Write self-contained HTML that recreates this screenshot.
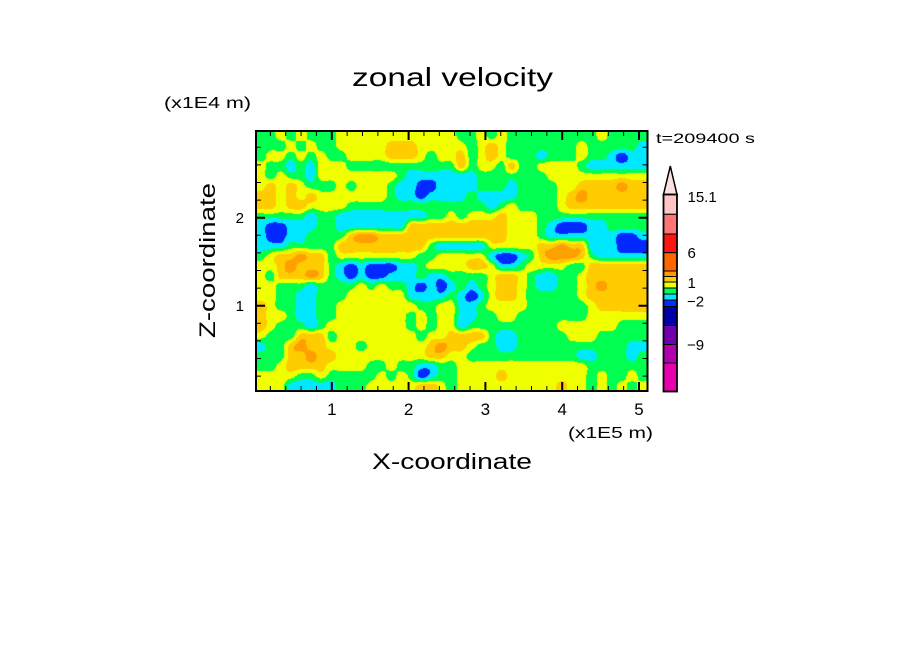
<!DOCTYPE html>
<html><head><meta charset="utf-8">
<style>
html,body{margin:0;padding:0;background:#fff;}
#wrap{position:relative;width:904px;height:654px;overflow:hidden;background:#fff;}
#c{position:absolute;left:256px;top:131px;background:#F0FF00;}
svg{position:absolute;left:0;top:0;}
text{font-family:"Liberation Sans",sans-serif;fill:#000;}
</style></head><body>
<div id="wrap">
<canvas id="c" width="391" height="260"></canvas>
<svg width="904" height="654" viewBox="0 0 904 654" xmlns="http://www.w3.org/2000/svg">
  <path id="tmin" d="" stroke="#000" stroke-width="1" fill="none"/>
  <path id="tmaj" d="" stroke="#000" stroke-width="2" fill="none"/>
  <rect x="256" y="131" width="391.5" height="260" fill="none" stroke="#000" stroke-width="2"/>

  <text x="352" y="86" font-size="26" textLength="201" lengthAdjust="spacingAndGlyphs">zonal velocity</text>
  <text x="164" y="108" font-size="16" textLength="87" lengthAdjust="spacingAndGlyphs">(x1E4 m)</text>
  <text x="656" y="143" font-size="14" textLength="99" lengthAdjust="spacingAndGlyphs">t=209400 s</text>

  <text x="244" y="223" font-size="15" text-anchor="end">2</text>
  <text x="244" y="311" font-size="15" text-anchor="end">1</text>

  <text x="331.8" y="415" font-size="17" text-anchor="middle">1</text>
  <text x="408.6" y="415" font-size="17" text-anchor="middle">2</text>
  <text x="485.4" y="415" font-size="17" text-anchor="middle">3</text>
  <text x="562.2" y="415" font-size="17" text-anchor="middle">4</text>
  <text x="639" y="415" font-size="17" text-anchor="middle">5</text>
  <text x="568" y="438" font-size="16" textLength="85" lengthAdjust="spacingAndGlyphs">(x1E5 m)</text>

  <text x="372" y="469" font-size="22" textLength="160" lengthAdjust="spacingAndGlyphs">X-coordinate</text>
  <text transform="translate(215,260.5) rotate(-90)" x="0" y="0" font-size="22" text-anchor="middle" textLength="155" lengthAdjust="spacingAndGlyphs">Z-coordinate</text>

  <!-- colorbar -->
  <polygon points="663.5,194.5 670.3,166 677,194.5" fill="#FFE0E0" stroke="#000" stroke-width="1.5" stroke-linejoin="miter"/>
  <g stroke="#000" stroke-width="1">
    <rect x="663.5" y="194.5" width="13.5" height="19.8" fill="#FFC4C4"/>
    <rect x="663.5" y="214.3" width="13.5" height="19.7" fill="#FF7474"/>
    <rect x="663.5" y="234" width="13.5" height="18.7" fill="#FF1414"/>
    <rect x="663.5" y="252.7" width="13.5" height="18.3" fill="#FF6600"/>
    <rect x="663.5" y="271" width="13.5" height="5.5" fill="#FF9900"/>
    <rect x="663.5" y="276.5" width="13.5" height="5.5" fill="#FFCC00"/>
    <rect x="663.5" y="282" width="13.5" height="6" fill="#F0FF00"/>
    <rect x="663.5" y="288" width="13.5" height="6" fill="#00FF50"/>
    <rect x="663.5" y="294" width="13.5" height="6" fill="#00E8FF"/>
    <rect x="663.5" y="300" width="13.5" height="6.5" fill="#0030FF"/>
    <rect x="663.5" y="306.5" width="13.5" height="19" fill="#0000A8"/>
    <rect x="663.5" y="325.5" width="13.5" height="19" fill="#7000B0"/>
    <rect x="663.5" y="344.5" width="13.5" height="18.5" fill="#B000B0"/>
    <rect x="663.5" y="363" width="13.5" height="28.5" fill="#E800B0"/>
  </g>
  <rect x="663.5" y="194.5" width="13.5" height="197" fill="none" stroke="#000" stroke-width="1.8"/>

  <text x="687.5" y="202" font-size="15">15.1</text>
  <text x="687.5" y="258" font-size="15">6</text>
  <text x="687.5" y="288" font-size="15">1</text>
  <text x="687" y="306.5" font-size="15">−2</text>
  <text x="687" y="350" font-size="15">−9</text>
</svg>
</div>
<script>
(function(){
var R=[
"GGYGYGGGYYYYYYYYYYYYGGYGYGGGGGGGGGYGGGG",
"GGGYGYGGYYYYYOOOYYYYYGYOYGGGGGGGYGGGGGC",
"GYYGYGYGGYYYYOOOYGYYOGYOYGGGCGGGYGGCBCC",
"YGGCGCYYYGGGGGGGGGGGOGYYGOGGYYYYGCCCCCC",
"YGYGGCYYYYYYYYGCCCCCCCGGGGGGGYYYYYYYYYY",
"YOYOYGGGYGYYYGCCBBCCCCGGGCGGGGYYOOOODOO",
"OOYOYOYYYYYYYGCCBCCCCGCCCCGGGGYODOOOOOO",
"OOYOOYYYYGGGGGGGGGGGGGGCGYGGGGYOOOOOOOO",
"GGGGGCGGCCCCCCCCCGGYGYYYOYYYGGGGGGGGGGG",
"CBBCCCGGCCCCCCCOOOOOOOOOOYYYGCBBBCCGGGG",
"CBBCCGGGGODDOOOOOOOOOOOOOYYYGCCCCCCCBBC",
"CCCGGGGGOOOOOOOOOGCCCCCYYYYYOODOOCCCBBB",
"GYOODOOGYYYYYYYYGGYYYYYCBBCGODDDOGCCCCC",
"YYODOOOGCBCBBBCCGYYYYOOYCCGYYYYGGOOOOOO",
"YGOOODOGCBCBBCCCGCCGGGGYOOYGCCGGYOOOOOO",
"YYGGGCGGGGYGYGGCBCBCGCGYOOYGCCGGYODOOOO",
"YYGGCCGGGYYYYYYCCCCGCBCYOOYGGGGGYOOOOOO",
"OYGGCCGGYYYYYYYYGGYYCCGYYYYGGGGGGYOOOOO",
"OYYGCCGGYYYYYYYGYGYYCCGGYYGGGGGGGYYYYYY",
"OYGGGCGYYYYYYYYGYGYYCGGGGGGGGGYYYYYYGGG",
"YGGGOOOGYYYYYYYYGYYOOOOGCCGGGGGYYYGGGGG",
"CGGODOOYYYGYYYYYYODOOYGGCCGGGGGGGGGGGCC",
"GGGOODOOYYYYYYYYYOOYYGGGGGGGGGGGCCGGGCG",
"GGYOOOOYYYYGGYGGCCGGYYYYYYYYYYYYYGGGGGG",
"YYYYGGYGGGGGYGYGBCGGYYYYOYYYYYYYYGYGGYG",
"YYYCCCCCGGGYYYYYOOYGYYYYYYYYYYOYYGYGYGY"
];
var L={B:0,C:1,G:2,Y:3,O:4,D:5};
var P=[[0,40,255],[0,232,255],[0,255,80],[240,255,0],[255,204,0],[255,160,0]];
var NC=39,NR=26,W=391,H=260;
var g=R.map(function(r){var a=[];for(var i=0;i<NC;i++){var c=r.charAt(i);a.push(L[c]!==undefined?L[c]:3);}return a;});
function G(j,i){if(j<0)j=0;if(j>NR-1)j=NR-1;if(i<0)i=0;if(i>NC-1)i=NC-1;return g[j][i];}
function cr(p0,p1,p2,p3,t){return p1+0.5*t*(p2-p0+t*(2*p0-5*p1+4*p2-p3+t*(3*(p1-p2)+p3-p0)));}
var cv=document.getElementById('c');
if(cv&&cv.getContext){
var ctx=cv.getContext('2d');
var img=ctx.createImageData(W,H),d=img.data;
var cw=W/NC,chh=H/NR;
for(var y=0;y<H;y++){
  var gy=(y+0.5)/chh-0.5;
  var j1=Math.floor(gy), fy=gy-j1;
  for(var x=0;x<W;x++){
    var gx=(x+0.5)/cw-0.5;
    var i1=Math.floor(gx), fx=gx-i1;
    var r=[];
    for(var m=-1;m<=2;m++){
      r.push(cr(G(j1+m,i1-1),G(j1+m,i1),G(j1+m,i1+1),G(j1+m,i1+2),fx));
    }
    var v=cr(r[0],r[1],r[2],r[3],fy);
    var k=Math.round(v); if(k<0)k=0; if(k>5)k=5;
    var p=(y*W+x)*4, c=P[k];
    d[p]=c[0];d[p+1]=c[1];d[p+2]=c[2];d[p+3]=255;
  }
}
ctx.putImageData(img,0,0);
}
var mn='',mj='';
for(var j=1;j<=25;j++){
  var xx=(255+15.36*j).toFixed(2);
  if(j%5===0){mj+='M'+xx+' 392V382M'+xx+' 130V140';}
  else{mn+='M'+xx+' 391V386M'+xx+' 131V136';}
}
for(var k=1;k<=14;k++){
  var yy=(393.7-17.6*k).toFixed(2);
  if(k%5===0){mj+='M255 '+yy+'H265M648.5 '+yy+'H638.5';}
  else{mn+='M256 '+yy+'H261M647.5 '+yy+'H642.5';}
}
document.getElementById('tmin').setAttribute('d',mn);
document.getElementById('tmaj').setAttribute('d',mj);
})();
</script>
</body></html>
